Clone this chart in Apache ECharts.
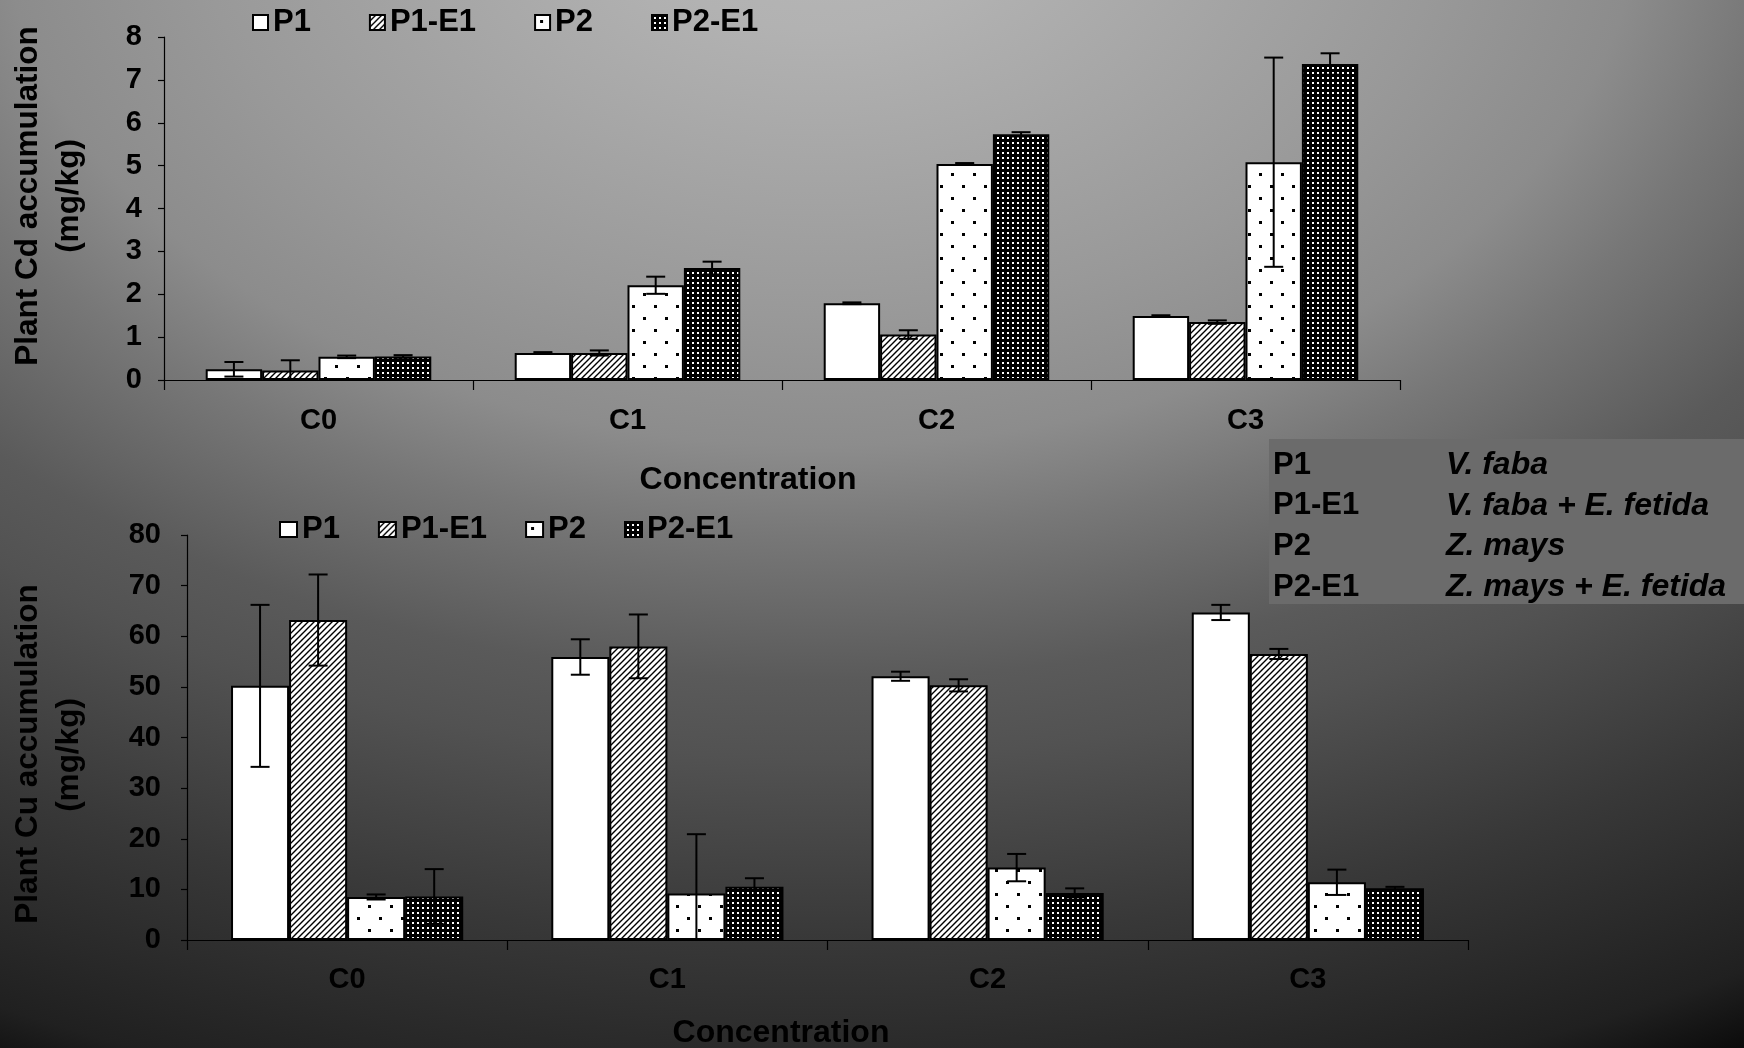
<!DOCTYPE html>
<html>
<head>
<meta charset="utf-8">
<script src="https://cdn.jsdelivr.net/npm/echarts@6/dist/echarts.min.js"></script>
<style>
html,body{margin:0;padding:0;background:#111;}
#chart{width:1744px;height:1048px;}
</style>
</head>
<body>
<div id="chart"></div>
<script>
// ---------------- data ----------------
const categories = ['C0', 'C1', 'C2', 'C3'];
const seriesNames = ['P1', 'P1-E1', 'P2', 'P2-E1'];

// Plant Cd accumulation (mg/kg)
const cdP1      = [0.25, 0.63, 1.79, 1.49];
const cdP1Err   = [0.17, 0.02, 0.02, 0.02];
const cdP1E1    = [0.22, 0.63, 1.06, 1.35];
const cdP1E1Err = [0.24, 0.06, 0.10, 0.04];
const cdP2      = [0.54, 2.21, 5.04, 5.08];
const cdP2Err   = [0.03, 0.20, 0.02, 2.44];
const cdP2E1    = [0.55, 2.61, 5.73, 7.37];
const cdP2E1Err = [0.03, 0.15, 0.05, 0.25];

// Plant Cu accumulation (mg/kg)
const cuP1      = [50.2, 55.9, 52.1, 64.7];
const cuP1Err   = [16.0, 3.5, 0.9, 1.5];
const cuP1E1    = [63.2, 58.0, 50.3, 56.5];
const cuP1E1Err = [9.0, 6.3, 1.2, 1.0];
const cuP2      = [8.5, 9.2, 14.3, 11.4];
const cuP2Err   = [0.5, 11.7, 2.7, 2.5];
const cuP2E1    = [8.6, 10.5, 9.3, 10.2];
const cuP2E1Err = [5.4, 1.7, 0.9, 0.3];

// axis ranges / ticks
const cdAxisMin = 0, cdAxisMax = 8, cdAxisStep = 1;
const cuAxisMin = 0, cuAxisMax = 80, cuAxisStep = 10;

// texts
const cdTitle = 'Plant Cd accumulation';
const cuTitle = 'Plant Cu accumulation';
const unitTitle = '(mg/kg)';
const xTitle = 'Concentration';
const tableCodes = ['P1', 'P1-E1', 'P2', 'P2-E1'];
const tableNames = ['V. faba', 'V. faba + E. fetida', 'Z. mays', 'Z. mays + E. fetida'];

// ---------------- styling ----------------
const FONT = "'Liberation Sans', Arial, Helvetica, sans-serif";

function makePattern(w, h, draw) {
  const c = document.createElement('canvas');
  c.width = w; c.height = h;
  const ctx = c.getContext('2d');
  draw(ctx, w, h);
  return { image: c, repeat: 'repeat' };
}
const fillP1 = '#ffffff';
const fillHatch = makePattern(6, 6, (ctx, w, h) => {
  ctx.fillStyle = '#fff'; ctx.fillRect(0, 0, w, h);
  ctx.strokeStyle = '#000'; ctx.lineWidth = 1.4;
  ctx.beginPath();
  ctx.moveTo(0, h); ctx.lineTo(w, 0);
  ctx.moveTo(-1, 1); ctx.lineTo(1, -1);
  ctx.moveTo(w - 1, h + 1); ctx.lineTo(w + 1, h - 1);
  ctx.stroke();
});
const fillDots = makePattern(22, 24, (ctx, w, h) => {
  ctx.fillStyle = '#fff'; ctx.fillRect(0, 0, w, h);
  ctx.fillStyle = '#000';
  ctx.fillRect(5, 5, 3, 3);
  ctx.fillRect(16, 17, 3, 3);
});
const fillDense = makePattern(5, 5, (ctx, w, h) => {
  ctx.fillStyle = '#000'; ctx.fillRect(0, 0, w, h);
  ctx.fillStyle = '#fff'; ctx.fillRect(2, 2, 2, 2);
});
const fills = [fillP1, fillHatch, fillDots, fillDense];

const cdValues = [cdP1, cdP1E1, cdP2, cdP2E1];
const cdErrors = [cdP1Err, cdP1E1Err, cdP2Err, cdP2E1Err];
const cuValues = [cuP1, cuP1E1, cuP2, cuP2E1];
const cuErrors = [cuP1Err, cuP1E1Err, cuP2Err, cuP2E1Err];

const cdGap = 0.27, cuGap = 0.275;

function errData(values, errors) {
  const out = [];
  values.forEach((arr, si) => arr.forEach((v, ci) => out.push([ci, v, errors[si][ci], si])));
  return out;
}

function errRender(gap, n) {
  return function (params, api) {
    const cat = api.value(0), val = api.value(1), err = api.value(2), si = api.value(3);
    const band = api.size([1, 0])[0];
    const bw = band * (1 - gap) / n;
    const c = api.coord([cat, val]);
    const x = c[0] + (si - (n - 1) / 2) * bw;
    const hi = api.coord([cat, val + err])[1];
    const loV = val - err;
    const lo = api.coord([cat, Math.max(0, loV)])[1];
    const half = 9.5;
    const style = { stroke: '#000', lineWidth: 2 };
    const children = [
      { type: 'line', shape: { x1: x, y1: hi, x2: x, y2: lo }, style: style },
      { type: 'line', shape: { x1: x - half, y1: hi, x2: x + half, y2: hi }, style: style }
    ];
    if (loV >= 0) children.push({ type: 'line', shape: { x1: x - half, y1: lo, x2: x + half, y2: lo }, style: style });
    return { type: 'group', children: children };
  };
}

function barSeries(values, gridIdx, gap) {
  return values.map((arr, si) => ({
    name: seriesNames[si],
    type: 'bar',
    xAxisIndex: gridIdx, yAxisIndex: gridIdx,
    data: arr,
    barGap: '0%',
    barCategoryGap: (gap * 100) + '%',
    itemStyle: { color: fills[si], borderColor: '#000', borderWidth: 2 },
    emphasis: { disabled: true },
    animation: false
  }));
}

const axisLabelStyle = { color: '#000', fontWeight: 'bold', fontSize: 29, fontFamily: FONT };
const blackLine = { color: '#000', width: 1.2 };

function xAxisDef(gridIdx, margin) {
  return {
    type: 'category', gridIndex: gridIdx, data: categories,
    axisLine: { show: true, lineStyle: blackLine },
    axisTick: { show: true, length: 10, lineStyle: blackLine },
    axisLabel: Object.assign({ margin: margin }, axisLabelStyle),
    splitLine: { show: false }
  };
}
function yAxisDef(gridIdx, min, max, step, margin) {
  return {
    type: 'value', gridIndex: gridIdx, min: min, max: max, interval: step,
    axisLine: { show: true, lineStyle: blackLine },
    axisTick: { show: true, length: 6, lineStyle: blackLine },
    axisLabel: Object.assign({ margin: margin }, axisLabelStyle),
    splitLine: { show: false }
  };
}

function titleText(text, x, y, rot, size, style) {
  return {
    type: 'text', x: x, y: y, rotation: rot || 0, z: 50,
    style: {
      text: text, fill: '#000',
      font: (style || 'bold') + ' ' + size + 'px ' + FONT,
      textAlign: 'center', textVerticalAlign: 'middle',
      align: 'center', verticalAlign: 'middle'
    }
  };
}

const graphics = [
  {
    type: 'rect', x: 0, y: 0, scaleY: 2 / 3, z: -100, silent: true,
    shape: { x: 0, y: 0, width: 1744, height: 1572 },
    style: {
      fill: {
        type: 'radial', x: 820, y: -150, r: 1950, global: true,
        colorStops: [
          { offset: 0.00, color: '#b8b8b8' },
          { offset: 0.10, color: '#b2b2b2' },
          { offset: 0.32, color: '#999999' },
          { offset: 0.42, color: '#8c8c8c' },
          { offset: 0.49, color: '#777777' },
          { offset: 0.60, color: '#5a5a5a' },
          { offset: 0.66, color: '#525252' },
          { offset: 0.80, color: '#383838' },
          { offset: 0.95, color: '#202020' },
          { offset: 1.00, color: '#0c0c0c' }
        ]
      }
    }
  },
  titleText(cdTitle, 28, 196, Math.PI / 2, 31.5),
  titleText(unitTitle, 69, 196, Math.PI / 2, 31.5),
  titleText(cuTitle, 28, 754, Math.PI / 2, 31.5),
  titleText(unitTitle, 69, 755, Math.PI / 2, 31.5),
  titleText(xTitle, 748, 480, 0, 32),
  titleText(xTitle, 781, 1033, 0, 32),
  { type: 'rect', x: 1269, y: 439, z: 40, shape: { width: 475, height: 165 }, style: { fill: '#6b6b6b' } }
];
tableCodes.forEach((code, i) => {
  graphics.push({
    type: 'text', x: 1273, y: 465 + i * 40.8, z: 50,
    style: { text: code, fill: '#000', font: 'bold 31px ' + FONT, textAlign: 'left', textVerticalAlign: 'middle', align: 'left', verticalAlign: 'middle' }
  });
  graphics.push({
    type: 'text', x: 1446, y: 465 + i * 40.8, z: 50,
    style: { text: tableNames[i], fill: '#000', font: 'italic bold 32px ' + FONT, textAlign: 'left', textVerticalAlign: 'middle', align: 'left', verticalAlign: 'middle' }
  });
});

const legendText = { color: '#000', fontWeight: 'bold', fontSize: 31, fontFamily: FONT };

const option = {
  backgroundColor: '#111',
  animation: false,
  textStyle: { fontFamily: FONT },
  grid: [
    { left: 164, right: 344, top: 37, bottom: 668, containLabel: false, outerBoundsMode: 'none' },
    { left: 187, right: 276, top: 535, bottom: 108, containLabel: false, outerBoundsMode: 'none' }
  ],
  legend: [
    { data: seriesNames, left: 252, top: 7, padding: 0, icon: 'rect', itemWidth: 15, itemHeight: 15, itemGap: 58, selectedMode: false, textStyle: legendText },
    { data: seriesNames, left: 279, top: 514, padding: 0, icon: 'rect', itemWidth: 17, itemHeight: 15, itemGap: 38, selectedMode: false, textStyle: legendText }
  ],
  xAxis: [xAxisDef(0, 26), xAxisDef(1, 25)],
  yAxis: [
    yAxisDef(0, cdAxisMin, cdAxisMax, cdAxisStep, 22),
    yAxisDef(1, cuAxisMin, cuAxisMax, cuAxisStep, 26)
  ],
  graphic: { elements: graphics },
  series: [].concat(
    barSeries(cdValues, 0, cdGap),
    barSeries(cuValues, 1, cuGap),
    [
      { type: 'custom', name: 'errCd', xAxisIndex: 0, yAxisIndex: 0, z: 5, silent: true,
        renderItem: errRender(cdGap, 4), encode: { x: 0, y: 1 }, data: errData(cdValues, cdErrors) },
      { type: 'custom', name: 'errCu', xAxisIndex: 1, yAxisIndex: 1, z: 5, silent: true,
        renderItem: errRender(cuGap, 4), encode: { x: 0, y: 1 }, data: errData(cuValues, cuErrors) }
    ]
  )
};

const chart = echarts.init(document.getElementById('chart'), null, { renderer: 'canvas' });
chart.setOption(option);
</script>
</body>
</html>
